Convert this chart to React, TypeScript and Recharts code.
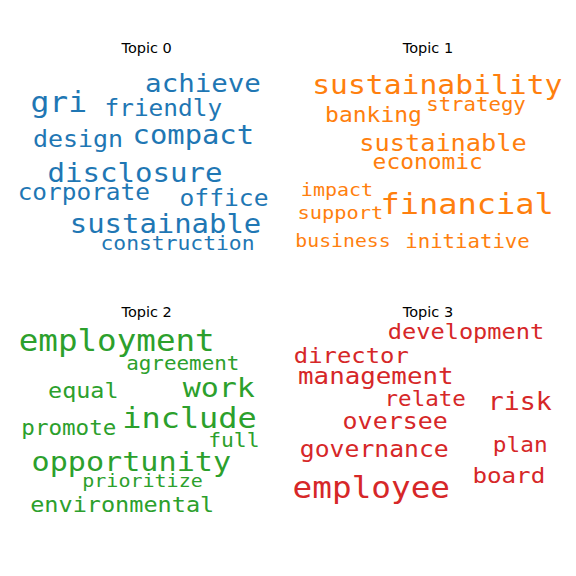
import { Scatter, ScatterChart, XAxis, YAxis } from "recharts";

// word cloud layout, in panel units (288 x 264 per panel)
const topic0Words = ["achieve", "gri", "friendly", "design", "compact", "disclosure", "corporate", "office", "sustainable", "construction"];
const topic0Weights = [25, 28.5, 22.2, 22.7, 26.2, 26.4, 22.2, 22.4, 26.3, 19.4];
const topic0X = [203, 58.8, 163.3, 78, 193.3, 135, 83.8, 224, 165.5, 177.5];
const topic0Y = [75.7, 95.7, 100, 130.7, 128, 165.7, 184, 189.7, 216.7, 234];

const topic1Words = ["sustainability", "banking", "strategy", "sustainable", "economic", "impact", "financial", "support", "business", "initiative"];
const topic1Weights = [27, 20.9, 18.8, 23, 20.8, 18.2, 29.1, 18.5, 18, 18.8];
const topic1X = [149.3, 85.5, 188, 155, 139.7, 49, 179.2, 52.3, 55, 179.5];
const topic1Y = [78, 105.7, 95, 134.7, 153.3, 179.7, 198.3, 203.3, 230.7, 232.3];

const topic2Words = ["employment", "agreement", "equal", "work", "include", "promote", "full", "opportunity", "prioritize", "environmental"];
const topic2Weights = [29.6, 19, 21.3, 27.3, 29, 20.5, 19.4, 27.4, 18.2, 21.4];
const topic2X = [116.7, 182.8, 83.3, 218.8, 189.5, 68.8, 233.8, 131.3, 142.5, 122.2];
const topic2Y = [71, 90, 118.3, 116.7, 148.3, 155, 166.7, 191, 207.3, 231.7];

const topic3Words = ["development", "director", "management", "relate", "risk", "oversee", "governance", "plan", "board", "employee"];
const topic3Weights = [21.5, 21.7, 23.5, 20.5, 24.2, 22.7, 22.5, 20.7, 22, 29.7];
const topic3X = [178, 63.3, 87.8, 137.2, 231.7, 107.2, 86.3, 232.2, 220.8, 83.3];
const topic3Y = [59.3, 82.7, 104.3, 125.7, 130, 149, 177.3, 171.7, 203.3, 218.3];

const topicTitles = ["Topic 0", "Topic 1", "Topic 2", "Topic 3"];
const titleX = [146.7, 140, 146.7, 140];
const colors = ["#1f77b4", "#ff7f0e", "#2ca02c", "#d62728"];

const build = (words: string[], weights: number[], xs: number[], ys: number[]) =>
  words.map((word, i) => ({ word, weight: weights[i], x: xs[i], y: ys[i] }));

const topics = [
  build(topic0Words, topic0Weights, topic0X, topic0Y),
  build(topic1Words, topic1Weights, topic1X, topic1Y),
  build(topic2Words, topic2Weights, topic2X, topic2Y),
  build(topic3Words, topic3Weights, topic3X, topic3Y),
];

const W = 288;
const H = 264;

function TopicCloud({ index }: { index: number }) {
  const color = colors[index];
  const renderWord = (props: any) => {
    const { cx, cy, payload } = props;
    return (
      <g transform={`translate(${cx},${cy}) scale(1.1,1)`}>
        <text
          x={0}
          y={0}
          textAnchor="middle"
          fontFamily="'DejaVu Sans Mono', monospace"
          fontSize={payload.weight}
          fill={color}
        >
          {payload.word}
        </text>
      </g>
    );
  };
  const renderTitle = (props: any) => (
    <text
      x={props.cx}
      y={props.cy}
      textAnchor="middle"
      fontFamily="'DejaVu Sans', sans-serif"
      fontSize={14.5}
      fill="#000"
    >
      {props.payload.word}
    </text>
  );

  return (
    <ScatterChart width={W} height={H} margin={{ top: 0, right: 0, bottom: 0, left: 0 }}>
      <XAxis type="number" dataKey="x" domain={[0, W]} hide />
      <YAxis type="number" dataKey="y" domain={[0, H]} reversed hide />
      <Scatter data={topics[index]} shape={renderWord} isAnimationActive={false} />
      <Scatter
        data={[{ word: topicTitles[index], x: titleX[index], y: 37 }]}
        shape={renderTitle}
        isAnimationActive={false}
      />
    </ScatterChart>
  );
}

export default function App() {
  return (
    <div
      style={{
        position: "absolute",
        left: 0,
        top: 0,
        width: 576,
        height: 576,
        background: "#fff",
        paddingTop: 16,
        boxSizing: "border-box",
        display: "grid",
        gridTemplateColumns: `${W}px ${W}px`,
        gridTemplateRows: `${H}px ${H}px`,
      }}
    >
      {[0, 1, 2, 3].map((i) => (
        <TopicCloud key={i} index={i} />
      ))}
    </div>
  );
}
